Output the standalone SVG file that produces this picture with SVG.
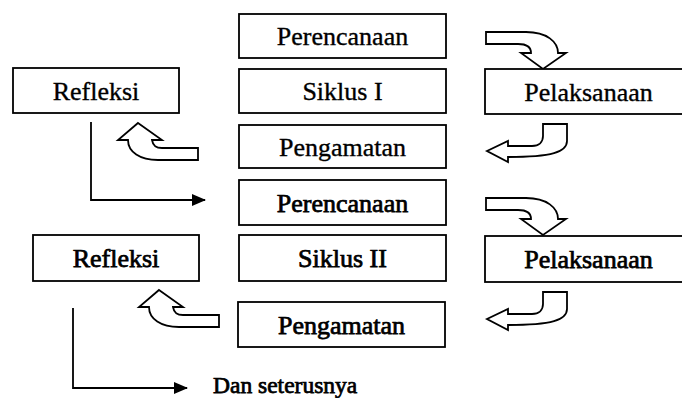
<svg xmlns="http://www.w3.org/2000/svg" width="682" height="398" viewBox="0 0 682 398">
<defs>
<style>
.box{fill:#fff;stroke:#000;stroke-width:1.8}
.t{font-family:"Liberation Serif","Times New Roman",serif;font-size:26px;text-anchor:middle;fill:#000;stroke:#000;stroke-width:0.35}
.b{stroke-width:0.75}
.arr{fill:#fff;stroke:#000;stroke-width:1.8;stroke-linejoin:miter}
.ln{fill:none;stroke:#000;stroke-width:1.8}
</style>
<marker id="ah" markerWidth="14" markerHeight="12" refX="13" refY="6" orient="auto" markerUnits="userSpaceOnUse">
<path d="M0,0 L14,6 L0,12 Z" fill="#000"/>
</marker>
<path id="curveDown" d="M486,32 L526,32 C547,32 558,42 558,53 L566,53 L543,69 L521,53 L531,53 C531,47 526,44 518,44 L486,44 Z"/>
<path id="hookLeft" d="M543,124 L567,124 L567,141 C567,152 552,157 508,157 L508,162 L487,151 L508,141 L508,146 L532,146 C539,146 543,142 543,136 Z"/>
<path id="curveUp" d="M138,123 L162,140 L152,140 C153,146 156,148 162,148 L198,148 L198,160 L158,160 C140,160 128,152 128,140 L118,140 Z"/>
</defs>
<rect width="682" height="398" fill="#fff"/>
<g id="connectors">
<use href="#curveDown" class="arr"/>
<use href="#hookLeft" class="arr"/>
<use href="#curveUp" class="arr"/>
<use href="#curveDown" class="arr" transform="translate(0,166)"/>
<use href="#hookLeft" class="arr" transform="translate(0,168)"/>
<use href="#curveUp" class="arr" transform="translate(21,167)"/>
<path class="ln" d="M91,122 L91,200 L205,200" marker-end="url(#ah)"/>
<path class="ln" d="M73,308 L73,388 L187,388" marker-end="url(#ah)"/>
</g>
<g id="perencanaan1"><rect class="box" x="239" y="14" width="207" height="44"/><text class="t" x="342.5" y="45">Perencanaan</text></g>
<g id="siklus1"><rect class="box" x="239" y="69" width="207" height="44"/><text class="t" x="342.5" y="100">Siklus I</text></g>
<g id="pengamatan1"><rect class="box" x="239" y="125" width="207" height="43"/><text class="t" x="342.5" y="155.5">Pengamatan</text></g>
<g id="refleksi1"><rect class="box" x="13" y="68" width="166" height="45"/><text class="t" x="96" y="99.5">Refleksi</text></g>
<g id="pelaksanaan1"><rect class="box" x="485" y="69" width="210" height="45"/><text class="t" x="588.5" y="100.5">Pelaksanaan</text></g>
<g id="perencanaan2"><rect class="box" x="239" y="180" width="207" height="45"/><text class="t b" x="342.5" y="211.5">Perencanaan</text></g>
<g id="siklus2"><rect class="box" x="239" y="235" width="207" height="46"/><text class="t b" x="342.5" y="267">Siklus II</text></g>
<g id="pengamatan2"><rect class="box" x="238" y="302" width="207" height="45"/><text class="t b" x="341.5" y="333.5">Pengamatan</text></g>
<g id="refleksi2"><rect class="box" x="33" y="235" width="166" height="46"/><text class="t b" x="116" y="267">Refleksi</text></g>
<g id="pelaksanaan2"><rect class="box" x="485" y="236" width="210" height="46"/><text class="t b" x="588.5" y="268">Pelaksanaan</text></g>
<g id="lanjut"><text class="t b" x="213" y="393" style="text-anchor:start;font-size:23.5px">Dan seterusnya</text></g>
</svg>
